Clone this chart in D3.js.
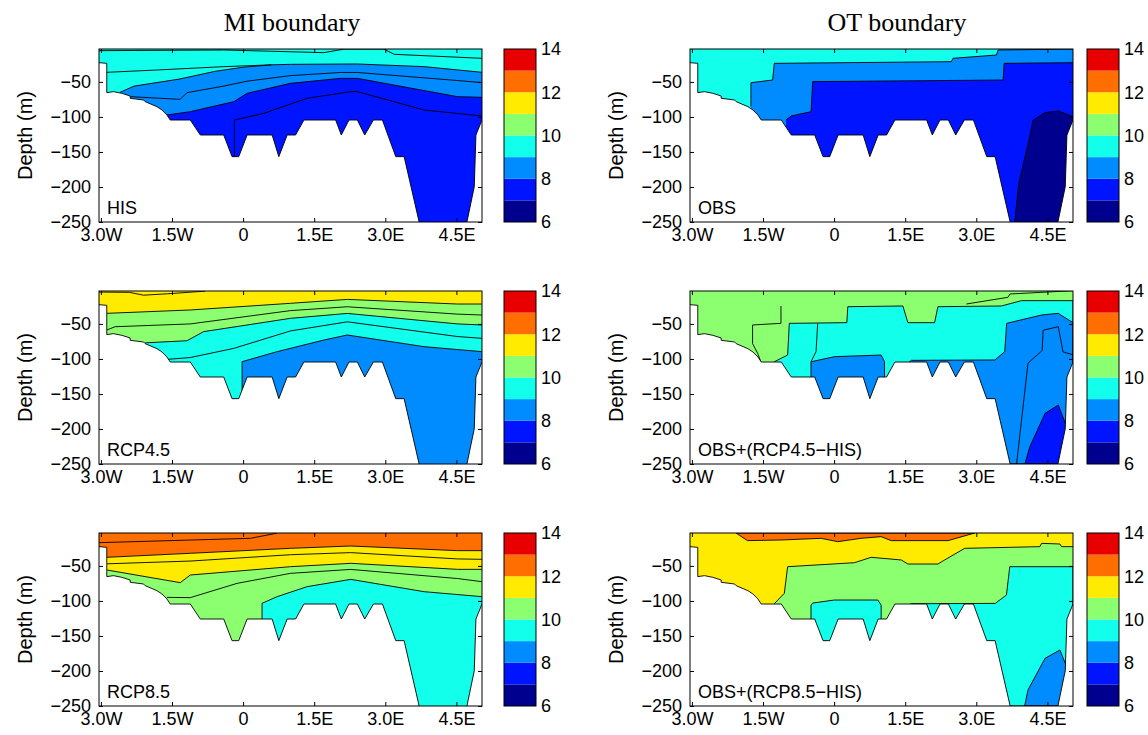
<!DOCTYPE html>
<html><head><meta charset="utf-8">
<script src="https://cdn.jsdelivr.net/npm/d3@7"></script>
<style>body{margin:0;background:#fff}</style></head>
<body><svg id="c" width="1148" height="735"></svg>
<script>
// ---------- data ----------
const columnTitles = ["MI boundary", "OT boundary"];
const lonTicks = [-3, -1.5, 0, 1.5, 3, 4.5];
const lonTickLabels = ["3.0W", "1.5W", "0", "1.5E", "3.0E", "4.5E"];
const depthTicks = [-50, -100, -150, -200, -250];
const cbarLevels = [6, 7, 8, 9, 10, 11, 12, 13, 14];
const cbarTicks = [6, 8, 10, 12, 14];
const bandColors = ["#00008f", "#0014ff", "#008cff", "#12ffec", "#8cff70", "#ffeb00", "#ff6e00", "#e80000"];
const lonDomain = [-3.04, 5.04];
const depthDomain = [-250, -3];

// seabed (land) outline, lon/depth
const seabedWest = [[-3.04,-22.5],[-2.876,-23.5],[-2.876,-65.3],[-2.735,-63.9],[-2.558,-66.3],[-2.382,-70.1],[-2.382,-73.4],[-2.1,-75.8],[-2.065,-78.2],[-1.819,-85.3],[-1.713,-90],[-1.607,-97.2],[-1.537,-104.4],[-1.114,-104.4],[-0.903,-125.8],[-0.409,-125.8],[-0.233,-156.7],[-0.092,-156.7],[0.085,-125.8],[0.613,-125.8],[0.754,-156.7],[0.93,-125.8],[1.107,-125.8],[1.283,-104.4],[1.952,-104.4],[2.072,-125.8],[2.234,-104.4],[2.411,-104.4],[2.566,-125.8],[2.749,-104.4],[2.939,-104.4],[3.221,-156.7],[3.397,-156.7],[3.714,-250]];
const seabedEast = [[4.722,-250],[4.877,-199.6],[4.912,-125.8],[5.04,-104.4]];

const hisBase = 9;
const hisBands = [
  {t:8, pts:[[-2.6,-65],[-2.3,-56],[-1.35,-46],[-0.6,-35],[0.0,-29],[0.6,-25.6],[1.0,-24.9],[2.41,-24.4],[3.82,-28.2],[5.04,-36.3]]},
  {t:7, pts:[[-1.607,-97.2],[-1.114,-92.5],[-0.198,-78.2],[0.085,-66.3],[1.0,-52],[2.06,-44.9],[2.41,-44.9],[4.52,-71],[5.04,-72]]}
];
const hisLines = [
  [[-3.04,-5.4],[-0.41,-4.4],[1.7,-8.2],[2.13,-3.2],[2.97,-3.2],[3.19,-10.6],[5.04,-16.3]],
  [[-3.04,-36.8],[-1.82,-33],[-0.41,-28.2],[0.6,-25.6]],
  [[-2.382,-71],[-1.33,-74.9],[-1.18,-65.3],[-0.41,-56],[0.08,-49],[1.0,-41],[2.06,-36.5],[2.41,-36.5],[4.52,-48],[5.04,-51]],
  [[-0.184,-157.7],[-0.184,-104.4],[0.437,-94.9],[1.35,-73.4],[2.27,-63.9],[2.41,-63.9],[3.82,-90.1],[5.04,-98.7]]
];

const obsBase = 9;
const obsBands = [
  {t:8, pts:[[-1.755,-85.3],[-1.755,-51.1],[-1.297,-47.3],[-1.262,-23.5],[2.473,-21.1],[2.508,-16.3],[3.425,-11.6],[3.46,-4.4],[5.04,-3.2]]},
  {t:7, pts:[[-1.015,-104.4],[-0.909,-98.7],[-0.486,-92.5],[-0.451,-49.6],[3.566,-47.3],[3.587,-23.5],[5.04,-22.5]]},
  {t:6, pts:[[3.812,-250],[3.897,-194.8],[4.094,-137.7],[4.2,-104.4],[4.447,-93.9],[4.728,-91.5],[5.04,-99.6]]}
];
const obsLines = [];

const rcp45Base = 11;
const rcp45Bands = [
  {t:10, pts:[[-3.04,-34],[-2.876,-34.9],[-1.114,-30.1],[1.0,-20.6],[2.2,-15],[4.52,-21.6],[5.04,-21.6]]},
  {t:9, pts:[[-2.065,-77],[-1.184,-74],[-0.832,-61],[-0.057,-53],[1.0,-42],[2.2,-35],[4.52,-50],[5.04,-51.5]]},
  {t:8, pts:[[-0.021,-156.2],[-0.021,-103.9],[0.718,-89.6],[1.705,-73],[2.198,-65.8],[3.82,-82.5],[5.04,-89.6]]}
];
const rcp45Lines = [
  [[-3.04,-4.5],[-2.4,-4.9],[-2.1,-9],[-1.6,-7],[-0.8,-3.2]],
  [[-2.876,-58.7],[-2.7,-54],[-1.114,-50],[0,-40],[1.0,-31],[2.2,-25.5],[4.52,-36],[5.04,-37.3]],
  [[-1.6,-100.6],[-1.114,-98],[-0.2,-85],[1.0,-60],[2.2,-47],[4.52,-68],[5.04,-70.6]]
];

const rcp85Base = 12;
const rcp85Bands = [
  {t:11, pts:[[-3.04,-37],[-2.876,-37.7],[-1.114,-32],[1.0,-24.9],[2.27,-21.6],[4.524,-28.2],[5.04,-28.2]]},
  {t:10, pts:[[-2.876,-55.8],[-1.325,-73.9],[-1.114,-63],[1.0,-51.1],[2.27,-46.3],[4.524,-54.9],[5.04,-54.9]]},
  {t:9, pts:[[0.4,-127.2],[0.4,-103.4],[0.718,-93.9],[1.352,-79.6],[2.27,-69.2],[3.82,-86.8],[5.04,-93.9]]}
];
const rcp85Lines = [
  [[-3.04,-16.8],[0.155,-10.6],[0.718,-3.2]],
  [[-2.876,-47],[-1.1,-43],[1.0,-34],[2.27,-31],[4.52,-40],[5.04,-40.6]],
  [[-1.607,-94.9],[-1.114,-95.3],[-0.127,-74.9],[1.0,-60.6],[2.27,-55],[4.52,-68],[5.04,-72.5]]
];

const obs45Base = 10;
const obs45Bands = [
  {t:9, closed:true, pts:[[-1.262,-104],[-0.98,-94.4],[-0.945,-49.2],[0.268,-48.2],[0.289,-25.4],[1.451,-24.4],[1.557,-48.2],[2.12,-48.2],[2.19,-25.4],[3.53,-24.4],[3.953,-16.8],[5.04,-16.8],[5.04,-250],[-1.262,-250]]},
  {t:8, closed:true, pts:[[-0.487,-250],[-0.487,-104],[0.007,-96.8],[0.993,-94.4],[1.064,-104],[1.064,-250]]},
  {t:8, closed:true, pts:[[1.55,-250],[1.55,-106],[1.63,-102],[3.39,-101.5],[3.6,-89.6],[3.64,-49.2],[4.376,-37.3],[4.728,-34.9],[5.04,-48.2],[5.04,-250]]},
  {t:7, closed:true, pts:[[4.02,-251],[4.13,-225.3],[4.45,-177.7],[4.73,-165.8],[4.905,-196.7],[4.8,-251]]}
];
const obs45Lines = [
  [[2.79,-21.6],[3.67,-12],[3.71,-7.3],[5.04,-2.5]],
  [[-1.121,-24.4],[-1.121,-49.2],[-1.72,-51.5],[-1.72,-78],[-1.614,-92],[-1.544,-104]],
  [[-0.346,-49.2],[-0.381,-89.6],[-0.487,-104]],
  [[3.85,-250],[4.09,-106],[4.39,-88],[4.41,-59],[4.73,-54],[4.83,-90],[5.04,-94]]
];

const obs85Base = 11;
const obs85Bands = [
  {t:12, closed:true, pts:[[-2.07,-3],[-1.826,-13.9],[-1.121,-13],[-0.275,-10.6],[0.077,-15.4],[0.57,-10.6],[0.993,-8.2],[1.205,-13.9],[2.403,-13.9],[2.966,-3]]},
  {t:10, pts:[[-1.262,-104],[-1.05,-89.1],[-0.98,-51.1],[0.43,-45.4],[0.782,-37.7],[1.416,-41.5],[1.557,-47.3],[2.191,-47.3],[2.332,-41.5],[2.755,-24.9],[4.34,-22.5],[4.376,-17.8],[4.763,-18.7],[4.8,-22.5],[5.04,-22.5]]},
  {t:9, closed:true, pts:[[-0.487,-250],[-0.487,-106],[-0.45,-103],[0.007,-98.7],[0.923,-98.7],[0.993,-106],[0.993,-250]]},
  {t:9, closed:true, pts:[[1.55,-250],[1.55,-106],[1.63,-104],[3.4,-103.5],[3.636,-91.5],[3.706,-51.1],[5.04,-51.1],[5.04,-250]]},
  {t:8, closed:true, pts:[[4.02,-250],[4.09,-227.1],[4.45,-182],[4.763,-170],[4.905,-193.8],[4.8,-250]]}
];
const obs85Lines = [];

const panelLabels = ["HIS", "OBS", "RCP4.5", "OBS+(RCP4.5\u2212HIS)", "RCP8.5", "OBS+(RCP8.5\u2212HIS)"];

// ---------- layout ----------
const colX = [99, 690], rowY = [49, 291, 533], W = 383, H = 173;
const cbarX = [504, 1087], cbarW = 32;
const FONT = "Liberation Sans, Arial, Helvetica, sans-serif";
const FS = 18;

const panels = [
  {row:0,col:0,base:hisBase,bands:hisBands,lines:hisLines},
  {row:0,col:1,base:obsBase,bands:obsBands,lines:obsLines},
  {row:1,col:0,base:rcp45Base,bands:rcp45Bands,lines:rcp45Lines},
  {row:1,col:1,base:obs45Base,bands:obs45Bands,lines:obs45Lines},
  {row:2,col:0,base:rcp85Base,bands:rcp85Bands,lines:rcp85Lines},
  {row:2,col:1,base:obs85Base,bands:obs85Bands,lines:obs85Lines}
];

const svg = d3.select("#c");
svg.append("rect").attr("width",1148).attr("height",735).attr("fill","#fff");
const defs = svg.append("defs");

const x = d3.scaleLinear().domain(lonDomain).range([0, W]);
const y = d3.scaleLinear().domain(depthDomain).range([H, 0]);
const col = t => bandColors[t - 6];
const line = d3.line().x(d => x(d[0])).y(d => y(d[1]));
const yb = depthDomain[0];

panels.forEach((p, i) => {
  const g = svg.append("g").attr("transform", `translate(${colX[p.col]},${rowY[p.row]})`);
  defs.append("clipPath").attr("id", "clip" + i).append("rect").attr("width", W).attr("height", H);
  const body = g.append("g").attr("clip-path", `url(#clip${i})`);
  body.append("rect").attr("width", W).attr("height", H).attr("fill", col(p.base));
  p.bands.forEach(b => {
    const pts = b.closed ? b.pts : b.pts.concat([[b.pts[b.pts.length-1][0], yb], [b.pts[0][0], yb]]);
    body.append("path").attr("d", line(pts) + "Z").attr("fill", col(b.t));
  });
  p.bands.forEach(b => {
    body.append("path").attr("d", b.closed ? line(b.pts) + "Z" : line(b.pts))
      .attr("fill", "none").attr("stroke", "#000").attr("stroke-width", 0.9);
  });
  p.lines.forEach(l => {
    body.append("path").attr("d", line(l)).attr("fill", "none").attr("stroke", "#000").attr("stroke-width", 0.9);
  });
  const west = seabedWest.concat([[lonDomain[0], yb]]);
  body.append("path").attr("d", line(west) + "Z").attr("fill", "#fff");
  const east = seabedEast.concat([[lonDomain[1], yb]]);
  body.append("path").attr("d", line(east) + "Z").attr("fill", "#fff");
  body.append("path").attr("d", line(seabedWest)).attr("fill", "none").attr("stroke", "#000").attr("stroke-width", 0.9);
  body.append("path").attr("d", line(seabedEast)).attr("fill", "none").attr("stroke", "#000").attr("stroke-width", 0.9);

  const ax = g.append("g").attr("transform", `translate(0,${H})`)
    .call(d3.axisBottom(x).tickValues(lonTicks).tickFormat((d, k) => lonTickLabels[k]).tickSizeInner(-4).tickSizeOuter(0).tickPadding(8));
  const ay = g.append("g")
    .call(d3.axisLeft(y).tickValues(depthTicks).tickFormat(d3.format("d")).tickSizeInner(-4).tickSizeOuter(0).tickPadding(8));
  const axT = g.append("g").call(d3.axisTop(x).tickValues(lonTicks).tickFormat("").tickSizeInner(-4).tickSizeOuter(0));
  const ayR = g.append("g").attr("transform", `translate(${W},0)`)
    .call(d3.axisRight(y).tickValues(depthTicks).tickFormat("").tickSizeInner(-4).tickSizeOuter(0));
  [ax, ay, axT, ayR].forEach(a => {
    a.select(".domain").remove();
    a.selectAll("text").attr("font-family", FONT).attr("font-size", FS).attr("fill", "#000");
    a.selectAll("line").attr("stroke", "#000");
  });
  ax.selectAll("text").attr("dy", "0.6em");
  g.append("rect").attr("width", W).attr("height", H).attr("fill", "none").attr("stroke", "#000").attr("stroke-width", 1);

  g.append("text").attr("transform", `translate(-67,${H/2}) rotate(-90)`).attr("text-anchor", "middle")
    .attr("font-family", FONT).attr("font-size", 20).text("Depth (m)");
  g.append("text").attr("x", 8).attr("y", H - 8).attr("font-family", FONT).attr("font-size", FS).text(panelLabels[i]);

  const cb = svg.append("g").attr("transform", `translate(${cbarX[p.col]},${rowY[p.row]})`);
  const cy = d3.scaleLinear().domain([cbarLevels[0], cbarLevels[cbarLevels.length-1]]).range([H, 0]);
  cb.selectAll("rect.b").data(cbarLevels.slice(0, -1)).enter().append("rect")
    .attr("x", 0).attr("width", cbarW).attr("y", d => cy(d + 1)).attr("height", d => cy(d) - cy(d + 1))
    .attr("fill", d => col(d));
  cb.append("rect").attr("width", cbarW).attr("height", H).attr("fill", "none").attr("stroke", "#000").attr("stroke-width", 1);
  const cax = cb.append("g").attr("transform", `translate(${cbarW},0)`)
    .call(d3.axisRight(cy).tickValues(cbarTicks).tickFormat(d3.format("d")).tickSizeInner(0).tickSizeOuter(0).tickPadding(5));
  cax.select(".domain").remove();
  cax.selectAll("text").attr("font-family", FONT).attr("font-size", FS).attr("fill", "#000");
});

const titleX = [292, 897];
columnTitles.forEach((t, k) => {
  svg.append("text").attr("x", titleX[k]).attr("y", 31).attr("text-anchor", "middle")
    .attr("font-family", "Liberation Serif, Times New Roman, serif").attr("font-size", 26).text(t);
});
</script></body></html>
